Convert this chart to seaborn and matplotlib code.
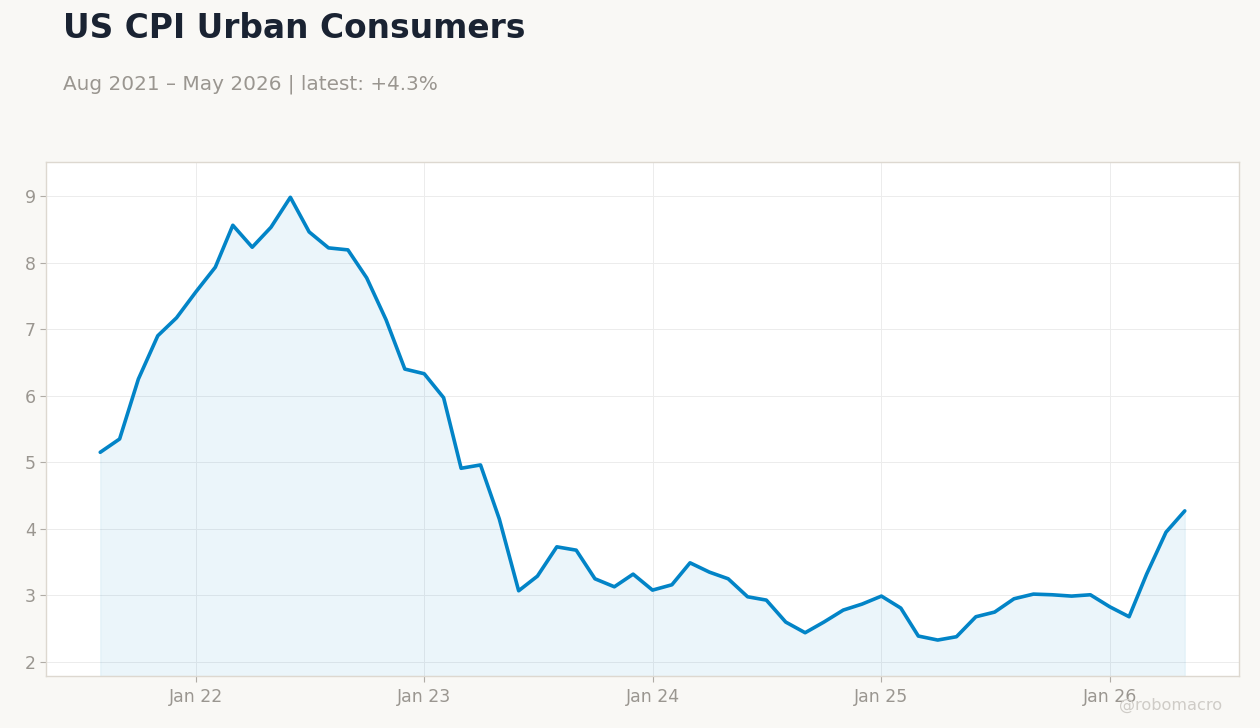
import pandas as pd
import seaborn as sns
import matplotlib.pyplot as plt
import matplotlib.dates as mdates

# monthly CPI YoY (%), Aug 2021 - May 2026
start_month = "2021-08-01"
cpi_yoy = [
    5.15, 5.35, 6.25, 6.90, 7.17,
    7.56, 7.93, 8.56, 8.23, 8.53, 8.98, 8.46, 8.22, 8.19, 7.77, 7.14, 6.40,
    6.33, 5.97, 4.91, 4.96, 4.15, 3.07, 3.29, 3.73, 3.68, 3.25, 3.13, 3.32,
    3.08, 3.16, 3.49, 3.35, 3.25, 2.98, 2.93, 2.60, 2.44, 2.60, 2.78, 2.87,
    2.99, 2.81, 2.39, 2.33, 2.38, 2.68, 2.75, 2.95, 3.02, 3.01, 2.99, 3.01,
    2.83, 2.68, 3.32, 3.95, 4.27,
]
months = pd.date_range(start_month, periods=len(cpi_yoy), freq="MS")
df = pd.DataFrame({"date": months, "cpi": cpi_yoy})

title = "US CPI Urban Consumers"
subtitle = "Aug 2021 \u2013 May 2026 | latest: +4.3%"

line_color = "#0284c7"
bg = "#f9f8f5"
muted = "#9a9690"

sns.set_theme(style="white")
plt.rcParams['font.family'] = ['DejaVu Sans']

fig = plt.figure(figsize=(12.6, 7.28), dpi=100, facecolor=bg)
ax = fig.add_axes([46 / 1260, 1 - 676 / 728, (1239 - 46) / 1260, (676 - 162) / 728])
ax.set_facecolor("white")

ymin, ymax = 1.79, 9.51
ax.fill_between(df["date"], df["cpi"], ymin, color=line_color, alpha=0.08,
                linewidth=0.8, edgecolor=(0.01, 0.52, 0.78, 0.08))
sns.lineplot(data=df, x="date", y="cpi", ax=ax, color=line_color, linewidth=2.6)

ax.set_ylim(ymin, ymax)
ax.margins(x=0.05)
ax.set_xlabel("")
ax.set_ylabel("")
ax.set_yticks(range(2, 10))

ax.xaxis.set_major_locator(mdates.YearLocator())
ax.xaxis.set_major_formatter(mdates.DateFormatter("%b %y"))

ax.grid(True, color="#ececec", linewidth=0.7)
ax.set_axisbelow(True)
for s in ax.spines.values():
    s.set_color("#ddd8d0")
    s.set_linewidth(1)
ax.tick_params(axis="both", colors="#b0aca6", labelcolor=muted, labelsize=12.5,
               length=4, width=0.8, direction="out", bottom=True, left=True)
ax.tick_params(axis="x", pad=5)

fig.text(63 / 1260, 1 - 12 / 728, title, fontsize=23.7, fontweight="bold",
         color="#1a2332", ha="left", va="top")
fig.text(63 / 1260, 1 - 75 / 728, subtitle, fontsize=14.4, color=muted,
         ha="left", va="top")
fig.text(1222 / 1260, 1 - 705 / 728, "@robomacro", fontsize=11.6, color="#cfccc7",
         ha="right", va="center")

plt.savefig("out.png", dpi=100, facecolor=bg)
